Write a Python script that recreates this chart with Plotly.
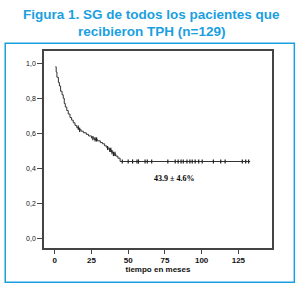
import plotly.graph_objects as go

# Kaplan-Meier step data
step_times = [0.5, 1, 1.5, 2.5, 3.2, 4, 5, 5.8, 6.5, 7.2, 8.2, 9.2, 10.4, 11.5, 12.6,
              13.8, 15, 16.5, 18, 19.5, 21.5, 23, 25, 27, 29, 31, 32.5, 34, 35.5,
              37, 38.5, 40, 41.5, 43, 44.5, 133]
step_surv = [0.98, 0.95, 0.92, 0.89, 0.87, 0.84, 0.82, 0.80, 0.77, 0.75, 0.73, 0.71,
             0.69, 0.675, 0.66, 0.645, 0.632, 0.62, 0.612, 0.603, 0.594, 0.585,
             0.573, 0.565, 0.557, 0.547, 0.54, 0.528, 0.516, 0.505, 0.493, 0.482,
             0.47, 0.458, 0.439, 0.439]

censor_times = [16, 17, 26, 27.5, 28.5, 36, 37.5, 38.2, 39, 40, 41, 46, 50, 53, 56, 57,
                61.5, 63, 66, 77, 82, 84, 86, 87.5, 90, 92, 93.6, 95.6, 98, 100.4,
                108, 113, 116, 127.7, 130, 132]

def surv_at(t):
    s = step_surv[0]
    for tt, ss in zip(step_times, step_surv):
        if tt <= t:
            s = ss
    return s

censor_surv = [surv_at(t) for t in censor_times]

x_ticks = [0, 25, 50, 75, 100, 125]
y_ticks = [0.0, 0.2, 0.4, 0.6, 0.8, 1.0]
y_ticktext = ["0,0", "0,2", "0,4", "0,6", "0,8", "1,0"]

title_lines = ["Figura 1. SG de todos los pacientes que", "recibieron TPH (n=129)"]
annot_text = "43.9 ± 4.6%"
x_title = "tiempo en meses"

fig = go.Figure()
fig.add_trace(go.Scatter(x=step_times, y=step_surv, mode="lines",
                         line=dict(color="#333333", width=1, shape="hv"),
                         hoverinfo="skip", showlegend=False))
fig.add_trace(go.Scatter(x=censor_times, y=censor_surv, mode="markers",
                         marker=dict(symbol="line-ns-open", size=3, color="#222222",
                                     line=dict(color="#222222", width=1.2)),
                         showlegend=False))

fig.add_annotation(x=81, y=0.34, xref="x", yref="y", text="<b>" + annot_text + "</b>",
                   showarrow=False, font=dict(family="Liberation Serif", size=8, color="#000000"))

blue = "#1aa0e0"
fig.add_annotation(x=0.47, y=1.186, xref="paper", yref="paper", yanchor="middle",
                   text="<b>" + title_lines[0] + "</b>", showarrow=False,
                   font=dict(family="Liberation Sans", size=13.5, color=blue))
fig.add_annotation(x=0.47, y=1.100, xref="paper", yref="paper", yanchor="middle",
                   text="<b>" + title_lines[1] + "</b>", showarrow=False,
                   font=dict(family="Liberation Sans", size=13.5, color=blue))

fig.add_shape(type="rect", xref="paper", yref="paper", x0=-0.170, x1=1.098,
              y0=-0.174, y1=1.039, line=dict(color=blue, width=1.5))

fig.update_layout(
    width=305, height=287,
    margin=dict(l=44, r=33, t=51, b=39),
    paper_bgcolor="white", plot_bgcolor="white",
    xaxis=dict(range=[-7.3, 147.9], tickvals=x_ticks, showgrid=False, zeroline=False,
               showline=True, mirror=True, linecolor="#444444", linewidth=1.5,
               ticks="outside", ticklen=4, tickcolor="#444444",
               tickfont=dict(family="Liberation Sans", size=8, color="#111111", weight="bold"),
               title=dict(text="<b>" + x_title + "</b>", standoff=2,
                          font=dict(family="Liberation Sans", size=8, color="#111111"))),
    yaxis=dict(range=[-0.055, 1.07], tickvals=y_ticks, ticktext=y_ticktext,
               showgrid=False, zeroline=False,
               showline=True, mirror=True, linecolor="#444444", linewidth=1.5,
               ticks="outside", ticklen=5, tickcolor="#444444",
               tickfont=dict(family="Liberation Sans", size=7, color="#111111")),
)

fig.write_html("out.html")
